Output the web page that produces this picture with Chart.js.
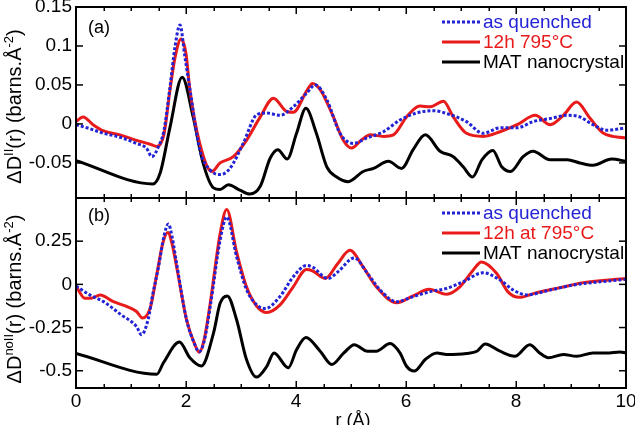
<!DOCTYPE html>
<html>
<head>
<meta charset="utf-8">
<script src="https://cdn.jsdelivr.net/npm/chart.js@4.4.1/dist/chart.umd.min.js"></script>
<style>
html, body { margin: 0; padding: 0; background: #fff; }
#wrap { position: relative; width: 635px; height: 425px; }
#wrap canvas { position: absolute; left: 0; top: 0; }
</style>
</head>
<body>
<div id="wrap">
  <canvas id="topChart" width="635" height="425"></canvas>
  <canvas id="botChart" width="635" height="425"></canvas>
</div>
<script>
// ---- panel (a) data ----
const rBlueA = [0, 0.25, 0.5, 0.8, 1.1, 1.28, 1.38, 1.5, 1.6, 1.71, 1.8, 1.89, 1.98, 2.07, 2.25, 2.44, 2.62, 2.8, 3.04, 3.29, 3.47, 3.71, 3.95, 4.2, 4.35, 4.56, 4.8, 5.04, 5.29, 5.59, 5.89, 6.19, 6.5, 6.8, 7.1, 7.4, 7.71, 8.02, 8.31, 8.62, 8.93, 9.16, 9.4, 9.65, 10];
const blueA = [-0.001, -0.006, -0.012, -0.017, -0.025, -0.031, -0.042, -0.029, -0.008, 0.048, 0.099, 0.127, 0.086, 0.045, -0.033, -0.059, -0.065, -0.057, -0.025, 0.012, 0.014, 0.011, 0.022, 0.040, 0.05, 0.031, -0.012, -0.025, -0.018, -0.01, 0.005, 0.014, 0.017, 0.012, 0.003, -0.012, -0.005, -0.005, 0.003, 0.007, 0.011, 0.009, -0.001, -0.008, -0.005];

const rRedA = [0, 0.13, 0.31, 0.5, 0.8, 1.1, 1.35, 1.47, 1.6, 1.71, 1.8, 1.91, 2.0, 2.07, 2.25, 2.47, 2.62, 2.86, 3.1, 3.35, 3.59, 3.83, 3.95, 4.2, 4.3, 4.44, 4.68, 4.86, 5.01, 5.2, 5.35, 5.59, 5.77, 6.01, 6.25, 6.44, 6.68, 6.86, 7.1, 7.41, 7.71, 8.02, 8.35, 8.62, 8.86, 9.1, 9.35, 9.59, 10];
const redA = [0.003, 0.009, -0.001, -0.009, -0.014, -0.021, -0.026, -0.029, -0.013, 0.044, 0.085, 0.109, 0.09, 0.044, -0.025, -0.061, -0.05, -0.042, -0.021, 0.009, 0.033, 0.016, 0.015, 0.043, 0.052, 0.044, 0.009, -0.021, -0.031, -0.02, -0.014, -0.016, -0.014, 0.009, 0.023, 0.022, 0.029, 0.009, -0.012, -0.016, -0.010, -0.001, 0.011, -0.001, 0.011, 0.028, 0.007, -0.012, -0.018];

const rBlackA = [0, 1.4, 1.53, 1.71, 1.93, 2.13, 2.31, 2.5, 2.62, 2.77, 2.98, 3.16, 3.35, 3.53, 3.67, 3.84, 4.01, 4.18, 4.37, 4.56, 4.74, 4.95, 5.22, 5.41, 5.68, 5.92, 6.13, 6.35, 6.62, 6.86, 7.04, 7.21, 7.38, 7.58, 7.74, 7.9, 8.13, 8.31, 8.62, 8.93, 9.16, 9.4, 9.74, 10];
const blackA = [-0.047, -0.077, -0.063, -0.004, 0.06, 0.009, -0.05, -0.082, -0.084, -0.078, -0.085, -0.09, -0.08, -0.044, -0.033, -0.045, -0.012, 0.02, -0.012, -0.055, -0.068, -0.074, -0.061, -0.057, -0.048, -0.057, -0.033, -0.014, -0.035, -0.042, -0.055, -0.068, -0.046, -0.034, -0.055, -0.061, -0.042, -0.035, -0.046, -0.046, -0.05, -0.053, -0.045, -0.048];

// ---- panel (b) data ----
const rBlueB = [0, 0.25, 0.5, 0.82, 1.1, 1.19, 1.31, 1.4, 1.5, 1.6, 1.68, 1.75, 1.83, 2.01, 2.15, 2.24, 2.33, 2.44, 2.62, 2.74, 2.92, 3.1, 3.29, 3.44, 3.71, 3.95, 4.19, 4.3, 4.58, 4.76, 5.06, 5.3, 5.53, 5.83, 6.13, 6.44, 6.74, 7.04, 7.4, 7.71, 7.95, 8.19, 8.62, 9.04, 9.53, 10];
const blueB = [-0.01, -0.061, -0.10, -0.176, -0.244, -0.291, -0.205, -0.05, 0.10, 0.28, 0.35, 0.27, 0.12, -0.205, -0.34, -0.39, -0.33, -0.13, 0.255, 0.39, 0.16, -0.03, -0.12, -0.14, -0.07, 0.044, 0.11, 0.10, 0.034, 0.072, 0.153, 0.063, -0.033, -0.10, -0.071, -0.042, -0.023, 0.015, 0.067, 0.025, -0.033, -0.061, -0.033, -0.004, 0.015, 0.029];

const rRedB = [0, 0.16, 0.28, 0.44, 0.68, 0.92, 1.1, 1.21, 1.35, 1.47, 1.58, 1.67, 1.75, 1.83, 2.01, 2.15, 2.24, 2.33, 2.44, 2.62, 2.74, 2.92, 3.1, 3.29, 3.47, 3.71, 3.95, 4.19, 4.3, 4.53, 4.76, 4.98, 5.22, 5.46, 5.83, 6.13, 6.42, 6.74, 6.98, 7.22, 7.37, 7.65, 7.85, 8.06, 8.33, 8.8, 9.22, 10];
const redB = [-0.01, -0.08, -0.08, -0.061, -0.10, -0.128, -0.157, -0.195, -0.136, 0.06, 0.24, 0.30, 0.23, 0.10, -0.205, -0.34, -0.393, -0.32, -0.11, 0.293, 0.433, 0.187, -0.014, -0.128, -0.163, -0.119, -0.014, 0.086, 0.078, 0.034, 0.121, 0.197, 0.101, -0.014, -0.106, -0.067, -0.029, -0.057, -0.014, 0.082, 0.13, 0.063, -0.042, -0.075, -0.052, -0.019, 0.01, 0.034];

const rBlackB = [0, 1.47, 1.59, 1.88, 2.07, 2.28, 2.5, 2.62, 2.75, 2.92, 3.1, 3.28, 3.47, 3.6, 3.86, 4.01, 4.18, 4.44, 4.65, 4.87, 5.06, 5.3, 5.46, 5.71, 5.89, 6.01, 6.15, 6.35, 6.56, 6.74, 7.1, 7.29, 7.44, 7.71, 7.98, 8.25, 8.43, 8.59, 8.86, 9.1, 9.4, 9.65, 9.89, 10];
const blackB = [-0.40, -0.52, -0.454, -0.334, -0.425, -0.473, -0.282, -0.11, -0.067, -0.205, -0.435, -0.537, -0.474, -0.397, -0.483, -0.378, -0.307, -0.387, -0.464, -0.397, -0.349, -0.387, -0.387, -0.343, -0.397, -0.474, -0.502, -0.435, -0.397, -0.406, -0.40, -0.387, -0.345, -0.387, -0.416, -0.349, -0.397, -0.425, -0.406, -0.416, -0.397, -0.397, -0.391, -0.397];

// ---- axes ----
const xMajor = [0, 2, 4, 6, 8, 10];
const xMinor = [0.5, 1, 1.5, 2.5, 3, 3.5, 4.5, 5, 5.5, 6.5, 7, 7.5, 8.5, 9, 9.5];
const yTicksA = [-0.05, 0, 0.05, 0.1, 0.15];
const yLabelsA = ['-0.05', '0', '0.05', '0.1', '0.15'];
const yTicksB = [-0.5, -0.25, 0, 0.25];
const yLabelsB = ['-0.5', '-0.25', '0', '0.25'];

const legendA = ['as quenched', '12h 795°C', 'MAT nanocrystal'];
const legendB = ['as quenched', '12h at 795°C', 'MAT nanocrystal'];

const BLUE = '#2323d6';
const RED = '#e81a1a';
const BLACK = '#000000';
const FONT = "'Liberation Sans', Arial, sans-serif";

Chart.defaults.font.family = FONT;
Chart.defaults.color = '#000';

function pts(rs, vs) { return rs.map((r, i) => ({ x: r, y: vs[i] })); }

function makeSets(labels, b, r, k) {
  return [
    { label: labels[0], data: b, borderColor: BLUE, borderWidth: 3, borderDash: [3, 2] },
    { label: labels[1], data: r, borderColor: RED, borderWidth: 3 },
    { label: labels[2], data: k, borderColor: BLACK, borderWidth: 3 }
  ];
}

function line(ctx, x1, y1, x2, y2) {
  ctx.beginPath(); ctx.moveTo(x1, y1); ctx.lineTo(x2, y2); ctx.stroke();
}

// frame, inward ticks, legend, panel letter, titles
const panelPlugin = {
  id: 'panel',
  afterDatasetsDraw(chart, args, o) {
    const { ctx, chartArea: a } = chart;
    const x = chart.scales.x, y = chart.scales.y;
    ctx.save();
    ctx.strokeStyle = '#000';
    ctx.lineWidth = 1.5;
    xMajor.concat(xMinor).forEach(v => {
      const px = Math.round(x.getPixelForValue(v)) + 0.25;
      const len = xMajor.includes(v) ? 7 : 4;
      line(ctx, px, a.bottom, px, a.bottom - len);
      line(ctx, px, a.top, px, a.top + len);
    });
    o.yTicks.forEach(v => {
      const py = y.getPixelForValue(v);
      line(ctx, a.left, py, a.left + 7, py);
      line(ctx, a.right, py, a.right - 7, py);
    });
    ctx.lineWidth = 2;
    ctx.strokeRect(a.left, a.top, a.right - a.left, a.bottom - a.top);

    // panel letter
    ctx.fillStyle = '#000';
    ctx.font = '18px ' + FONT;
    ctx.textAlign = 'left';
    ctx.textBaseline = 'alphabetic';
    ctx.fillText(o.letter, a.left + 12, a.top + o.letterBase);

    // legend
    ctx.font = '19px ' + FONT;
    ctx.textBaseline = 'middle';
    chart.data.datasets.forEach((ds, i) => {
      const ly = a.top + 15 + i * 20;
      ctx.strokeStyle = ds.borderColor;
      ctx.lineWidth = 3;
      ctx.setLineDash(ds.borderDash || []);
      line(ctx, a.right - 184, ly, a.right - 146, ly);
      ctx.setLineDash([]);
      ctx.fillStyle = ds.borderColor;
      ctx.fillText(ds.label, a.right - 143, ly + 1);
    });

    // rotated y title with superscripts
    ctx.fillStyle = '#000';
    ctx.textBaseline = 'alphabetic';
    const fs = 20, ss = 13;
    let total = 0;
    o.yTitle.forEach(s => {
      ctx.font = (s.sup ? ss : fs) + 'px ' + FONT;
      total += ctx.measureText(s.t).width;
    });
    ctx.translate(20.5, (a.top + a.bottom) / 2 + o.titleShift);
    ctx.rotate(-Math.PI / 2);
    let cx = -total / 2;
    o.yTitle.forEach(s => {
      ctx.font = (s.sup ? ss : fs) + 'px ' + FONT;
      ctx.fillText(s.t, cx, s.sup ? -8 : 0);
      cx += ctx.measureText(s.t).width;
    });
    ctx.setTransform(1, 0, 0, 1, 0, 0);

    if (o.xTitle) {
      ctx.font = '18px ' + FONT;
      ctx.textAlign = 'center';
      ctx.fillText(o.xTitle, (a.left + a.right) / 2 + 2, 426);
    }
    ctx.restore();
  }
};

function yScale(min, max, ticks, labels) {
  return {
    min: min, max: max,
    afterBuildTicks: ax => { ax.ticks = ticks.map(v => ({ value: v })); },
    afterFit: ax => { ax.width = 76; ax.paddingTop = 0; ax.paddingBottom = 0; },
    grid: { display: false, drawTicks: false },
    border: { display: false },
    ticks: {
      padding: 4,
      font: { size: 19 },
      color: '#000',
      callback: v => labels[ticks.indexOf(v)]
    }
  };
}

const common = {
  responsive: false,
  animation: false,
  elements: { point: { radius: 0 }, line: { cubicInterpolationMode: 'monotone', fill: false } },
};

new Chart(document.getElementById('topChart'), {
  type: 'line',
  data: { datasets: makeSets(legendA, pts(rBlueA, blueA), pts(rRedA, redA), pts(rBlackA, blackA)) },
  plugins: [panelPlugin],
  options: Object.assign({}, common, {
    layout: { padding: { left: 0, right: 9, top: 7, bottom: 227 } },
    scales: {
      x: { type: 'linear', min: 0, max: 10, display: false },
      y: yScale(-0.095, 0.15, yTicksA, yLabelsA)
    },
    plugins: {
      legend: { display: false },
      tooltip: { enabled: false },
      panel: {
        yTicks: yTicksA, letter: '(a)', letterBase: 26, titleShift: 4,
        yTitle: [{ t: 'ΔD' }, { t: 'II', sup: true }, { t: '(r) (barns.Å' }, { t: '-2', sup: true }, { t: ')' }]
      }
    }
  })
});

new Chart(document.getElementById('botChart'), {
  type: 'line',
  data: { datasets: makeSets(legendB, pts(rBlueB, blueB), pts(rRedB, redB), pts(rBlackB, blackB)) },
  plugins: [panelPlugin],
  options: Object.assign({}, common, {
    layout: { padding: { left: 0, right: 9, top: 198, bottom: 0 } },
    scales: {
      x: {
        type: 'linear', min: 0, max: 10,
        afterBuildTicks: ax => { ax.ticks = xMajor.map(v => ({ value: v })); },
        afterFit: ax => { ax.height = 37; ax.paddingLeft = 0; ax.paddingRight = 0; },
        grid: { display: false, drawTicks: false },
        border: { display: false },
        ticks: { padding: 2, font: { size: 19 }, color: '#000', maxRotation: 0, callback: v => String(v) }
      },
      y: yScale(-0.6, 0.5, yTicksB, yLabelsB)
    },
    plugins: {
      legend: { display: false },
      tooltip: { enabled: false },
      panel: {
        yTicks: yTicksB, letter: '(b)', letterBase: 23, titleShift: 6, xTitle: 'r (Å)',
        yTitle: [{ t: 'ΔD' }, { t: 'noII', sup: true }, { t: '(r) (barns.Å' }, { t: '-2', sup: true }, { t: ')' }]
      }
    }
  })
});
</script>
</body>
</html>
